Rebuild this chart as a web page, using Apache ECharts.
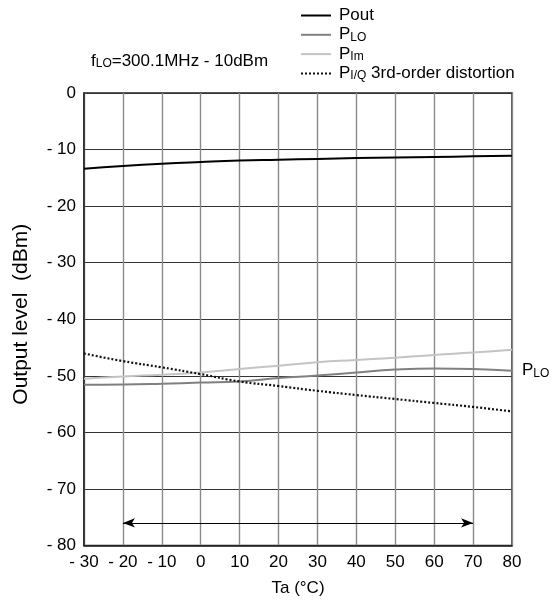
<!DOCTYPE html>
<html><head><meta charset="utf-8">
<script src="https://cdn.jsdelivr.net/npm/echarts@6/dist/echarts.min.js"></script>
<style>html,body{margin:0;padding:0;background:#fff}#c{width:552px;height:606px}</style>
</head><body><div id="c"></div>
<script>
const temps = [-30,-20,-10,0,10,20,30,40,50,60,70,80];
const pout = [-13.4,-12.9,-12.5,-12.2,-11.95,-11.8,-11.65,-11.5,-11.4,-11.3,-11.2,-11.1];
const plo  = [-51.6,-51.55,-51.4,-51.2,-51.0,-50.4,-49.95,-49.4,-48.9,-48.7,-48.8,-49.1];
const pim  = [-50.5,-50.1,-49.8,-49.4,-48.8,-48.2,-47.6,-47.2,-46.8,-46.3,-45.9,-45.4];
const piq  = [-46.05,-47.4,-48.5,-49.7,-51.0,-51.8,-52.65,-53.4,-54.1,-54.8,-55.5,-56.3];
const arrowRange = [-20,70];
const arrowLevel = -76;
const xTicks = {min:-30,max:80,step:10};
const yTicks = {min:-80,max:0,step:10};

const pair = a => temps.map((t,i)=>[t,a[i]]);
const fmtTick = v => v < 0 ? '- ' + Math.abs(v) : String(v);
const F = 'Liberation Sans, Arial, sans-serif';
const rich = {
  b:{fontSize:17,fontFamily:F,color:'#000',lineHeight:19},
  s:{fontSize:12,fontFamily:F,color:'#000',lineHeight:19,padding:[5,0,0,0]}
};
const names = {Pout:'{b|Pout}',PLO:'{b|P}{s|LO}',Pim:'{b|P}{s|Im}',PIQ:'{b|P}{s|I/Q}{b| 3rd-order distortion}'};

const chart = echarts.init(document.getElementById('c'));
chart.setOption({
  animation:false,
  backgroundColor:'#fff',
  grid:{left:84,top:93,right:40,bottom:60.5,show:true,borderColor:'#222',borderWidth:1.5,backgroundColor:'transparent'},
  legend:{
    orient:'vertical',left:295,top:2,itemWidth:30,itemHeight:14,itemGap:2.3,
    data:['Pout','PLO','Pim','PIQ'],
    formatter:n=>names[n],
    itemStyle:{opacity:0},
    textStyle:{rich:rich,fontFamily:F,fontSize:17,padding:[0,0,0,3]}
  },
  graphic:[{type:'text',left:91,top:53,style:{text:'{b|f}{s|LO}{b|=300.1MHz - 10dBm}',rich:rich}}],
  xAxis:{type:'value',min:xTicks.min,max:xTicks.max,interval:xTicks.step,
    name:'Ta (°C)',nameLocation:'middle',nameGap:34,
    nameTextStyle:{fontSize:17,fontFamily:F,color:'#000'},
    axisLine:{show:true,onZero:false,lineStyle:{color:'#222',width:1.5}},axisTick:{show:false},
    axisLabel:{formatter:fmtTick,fontSize:17,fontFamily:F,color:'#000',margin:8},
    splitLine:{show:true,lineStyle:{color:'#8a8a8a',width:1.4}}},
  yAxis:{type:'value',min:yTicks.min,max:yTicks.max,interval:yTicks.step,
    name:'Output level  (dBm)',nameLocation:'middle',nameGap:52,
    nameTextStyle:{fontSize:21,fontFamily:F,color:'#000',padding:[0,0,0,10]},
    axisLine:{show:true,onZero:false,lineStyle:{color:'#222',width:1.5}},axisTick:{show:false},
    axisLabel:{formatter:fmtTick,fontSize:17,fontFamily:F,color:'#000',margin:8},
    splitLine:{show:true,lineStyle:{color:'#333',width:1}}},
  series:[
    {name:'Pout',type:'line',smooth:true,symbol:'none',data:pair(pout),
     lineStyle:{color:'#000',width:2},itemStyle:{color:'#000'},
     markLine:{silent:true,symbol:['arrow','arrow'],symbolSize:[7,12],
       lineStyle:{color:'#000',width:1,type:'solid'},label:{show:false},
       data:[[{coord:[arrowRange[0],arrowLevel]},{coord:[arrowRange[1],arrowLevel]}]]}},
    {name:'PLO',type:'line',smooth:true,symbol:'none',data:pair(plo),
     lineStyle:{color:'#808080',width:2},itemStyle:{color:'#808080'},
     endLabel:{show:true,formatter:'{b|P}{s|LO}',rich:rich,distance:10}},
    {name:'Pim',type:'line',smooth:true,symbol:'none',data:pair(pim),
     lineStyle:{color:'#c4c4c4',width:2},itemStyle:{color:'#c4c4c4'}},
    {name:'PIQ',type:'line',smooth:true,symbol:'none',data:pair(piq),
     lineStyle:{color:'#111',width:2.2,type:[2,2]},itemStyle:{color:'#111'}}
  ]
});
</script></body></html>
